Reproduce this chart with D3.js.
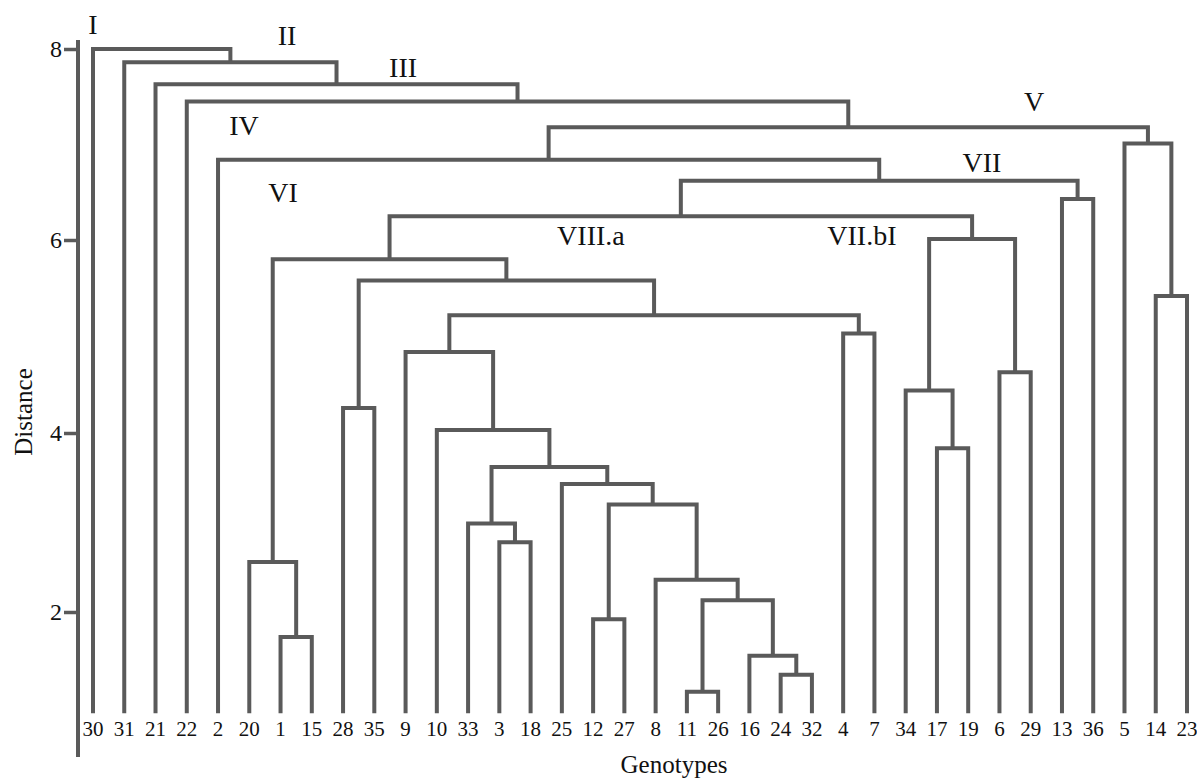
<!DOCTYPE html>
<html>
<head>
<meta charset="utf-8">
<script src="https://cdn.jsdelivr.net/npm/d3@7"></script>
<style>
  body { margin: 0; background: #fff; }
  text { font-family: "Liberation Serif", "Times New Roman", serif; fill: #111; }
</style>
</head>
<body>
<div id="chart"></div>
<script>
// leaf order along the bottom
const leafOrder = ["30", "31", "21", "22", "2", "20", "1", "15", "28", "35",
    "9", "10", "33", "3", "18", "25", "12", "27", "8", "11", "26", "16",
    "24", "32", "4", "7", "34", "17", "19", "6", "29", "13", "36", "5",
    "14", "23"];

// [left, right, distance] -- strings are leaves, numbers point to earlier rows
const merges = [
    ["1", "15", 1.72],   // 0
    ["20", 0, 2.56],     // 1
    ["28", "35", 4.26],  // 2
    ["11", "26", 1.11],  // 3
    ["24", "32", 1.30],  // 4
    ["16", 4, 1.51],     // 5
    [3, 5, 2.13],        // 6
    ["8", 6, 2.36],      // 7
    ["12", "27", 1.92],  // 8
    [8, 7, 3.20],        // 9
    ["25", 9, 3.43],     // 10
    ["3", "18", 2.78],   // 11
    ["33", 11, 2.99],    // 12
    [12, 10, 3.62],      // 13
    ["10", 13, 4.03],    // 14
    ["9", 14, 4.84],     // 15
    ["4", "7", 5.03],    // 16
    [15, 16, 5.22],      // 17
    [2, 17, 5.58],       // 18
    [1, 18, 5.80],       // 19
    ["17", "19", 3.83],  // 20
    ["34", 20, 4.44],    // 21
    ["6", "29", 4.63],   // 22
    [21, 22, 6.01],      // 23
    [19, 23, 6.25],      // 24
    ["13", "36", 6.43],  // 25
    [24, 25, 6.62],      // 26
    ["2", 26, 6.84],     // 27
    ["14", "23", 5.42],  // 28
    ["5", 28, 7.01],     // 29
    [27, 29, 7.18],      // 30
    ["22", 30, 7.45],    // 31
    ["21", 31, 7.63],    // 32
    ["31", 32, 7.86],    // 33
    ["30", 33, 8.00]     // 34
];

const leafBase = 0.87;
const distanceTicks = [2, 4, 6, 8];

// cluster names, placed at [leaf index, distance]
const clusterNames = ["I", "II", "III", "IV", "VI", "VIII.a", "V", "VII", "VII.bI"];
const clusterSpots = [[0, 8.16], [6.21, 8.04], [9.92, 7.71], [4.83, 7.10],
    [6.08, 6.40], [15.93, 5.95], [30.11, 7.35], [28.44, 6.71], [24.6, 5.95]];

const width = 1197, height = 782;
const lineColor = "#5a5a5a";

const svg = d3.select("#chart")
    .append("svg")
    .attr("width", width)
    .attr("height", height);

const xIdx = d3.scaleLinear()
    .domain([0, leafOrder.length - 1])
    .range([93, 1187]);

const x = d3.scalePoint()
    .domain(leafOrder)
    .range([93, 1187]);

const y = d3.scaleLinear()
    .domain([2, 4, 6, 8])
    .range([612, 433, 240, 49]);

// build the tree from the merge rows
function buildNode(ref) {
    if (typeof ref === "string") return { name: ref, dist: leafBase };
    const m = merges[ref];
    return { dist: m[2], children: [buildNode(m[0]), buildNode(m[1])] };
}
const root = d3.hierarchy(buildNode(merges.length - 1));

root.eachAfter(node => {
    if (!node.children) node.x = x(node.data.name);
    else node.x = d3.mean(node.children, c => c.x);
    node.y = y(node.data.dist);
});

// axis
const axis = svg.append("g")
    .attr("transform", "translate(78,0)")
    .call(d3.axisLeft(y)
        .tickValues(distanceTicks)
        .tickFormat(d3.format("d"))
        .tickSize(14)
        .tickPadding(2));
axis.select(".domain").remove();
axis.selectAll(".tick line")
    .attr("stroke", lineColor)
    .attr("stroke-width", 3.5);
axis.selectAll(".tick text")
    .attr("font-size", 24)
    .attr("fill", "#111");
axis.append("line")
    .attr("y1", 40)
    .attr("y2", 757)
    .attr("stroke", lineColor)
    .attr("stroke-width", 4);

// links
svg.append("g")
    .attr("fill", "none")
    .attr("stroke", lineColor)
    .attr("stroke-width", 4)
    .attr("stroke-linejoin", "miter")
    .selectAll("path.link")
    .data(root.descendants().filter(d => d.children))
    .enter()
    .append("path")
    .attr("class", "link")
    .attr("d", d => {
        const [a, b] = d.children;
        return `M${a.x},${a.y}V${d.y}H${b.x}V${b.y}`;
    });

// leaf labels
svg.append("g")
    .selectAll("text.leaf")
    .data(leafOrder)
    .enter()
    .append("text")
    .attr("class", "leaf")
    .attr("x", d => x(d))
    .attr("y", 736)
    .attr("text-anchor", "middle")
    .attr("font-size", 21)
    .text(d => d);

// cluster names
svg.append("g")
    .selectAll("text.cluster")
    .data(clusterNames)
    .enter()
    .append("text")
    .attr("class", "cluster")
    .attr("x", (d, i) => xIdx(clusterSpots[i][0]))
    .attr("y", (d, i) => y(clusterSpots[i][1]))
    .attr("text-anchor", "middle")
    .attr("font-size", 28)
    .text(d => d);

// axis titles
svg.append("text")
    .attr("x", 674)
    .attr("y", 773)
    .attr("text-anchor", "middle")
    .attr("font-size", 25)
    .text("Genotypes");

svg.append("text")
    .attr("transform", "translate(32,412) rotate(-90)")
    .attr("text-anchor", "middle")
    .attr("font-size", 25)
    .text("Distance");
</script>
</body>
</html>
